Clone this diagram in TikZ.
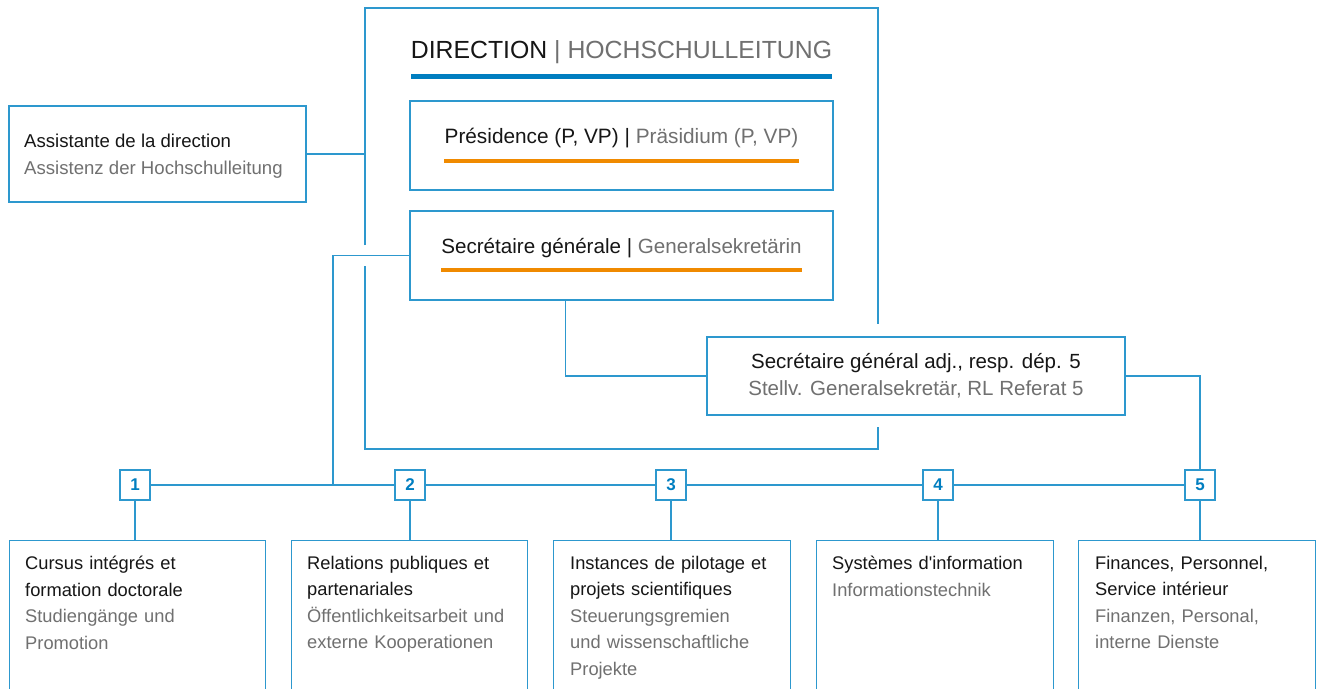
\documentclass[tikz,border=0pt]{standalone}
\usepackage{fontspec}
\setmainfont{Liberation Sans}
\usetikzlibrary{positioning}
\definecolor{orgBlue}{RGB}{45,152,206}
\definecolor{orgBlueDark}{RGB}{0,126,192}
\definecolor{orgOrange}{RGB}{240,138,0}
\definecolor{orgGray}{RGB}{112,112,112}
\definecolor{orgInk}{RGB}{22,22,22}

\begin{document}
\begin{tikzpicture}[x=1pt,y=-1pt,
  box/.style={draw=orgBlue, line width=1.3pt, inner sep=0pt},
  link/.style={draw=orgBlue, line width=1.3pt},
  numbox/.style={draw=orgBlue, line width=1.3pt, minimum size=30pt, inner sep=0pt,
    text=orgBlueDark, font=\fontsize{17}{17}\selectfont\bfseries},
  depttext/.style={inner sep=0pt, anchor=north west, text width=225pt, align=left,
    text=orgInk, font=\fontsize{18.3}{26.5}\selectfont}]
\clip (0,0) rectangle (1317,688);
\fill[white] (0,0) rectangle (1317,688);
% direction frame, open where the links pass
\coordinate (dirNW) at (365,8);
\coordinate (dirSE) at (878,449);
\draw[link] (365,245) -- (dirNW) -- (878,8) -- (878,324);
\draw[link] (365,266) -- (365,449) -- (dirSE) -- (878,427);
\node[inner sep=0pt, anchor=base, text=orgInk, font=\fontsize{24.8}{24.8}\selectfont]
  (title) at (621.5,58) {DIRECTION {\color{orgGray}| HOCHSCHULLEITUNG}};
\draw[orgBlueDark, line width=5pt] (411,76) -- (832,76);
% presidence and secretaire generale
\node[box, minimum width=423pt, minimum height=89pt] (pres) at (621.5,145.5) {};
\node[inner sep=0pt, anchor=base, text=orgInk, font=\fontsize{20.8}{20.8}\selectfont]
  (prestext) at (621.5,143) {Présidence (P, VP) | {\color{orgGray}Präsidium (P, VP)}};
\draw[orgOrange, line width=4pt] ([yshift=-18pt]prestext.base west) -- ([yshift=-18pt]prestext.base east);
\node[box, minimum width=423pt, minimum height=89pt] (sg) at (621.5,255.5) {};
\node[inner sep=0pt, anchor=base, text=orgInk, font=\fontsize{20.6}{20.6}\selectfont]
  (sgtext) at (621.5,253) {Secrétaire générale | {\color{orgGray}Generalsekretärin}};
\draw[orgOrange, line width=4pt] ([yshift=-17pt]sgtext.base west) -- ([yshift=-17pt]sgtext.base east);
% assistant
\node[box, minimum width=297pt, minimum height=96pt] (asst) at (157.5,154) {};
\node[inner sep=0pt, anchor=north west, align=left, text=orgInk, font=\fontsize{18.6}{27}\selectfont]
  (assttext) at (24,134) {Assistante de la direction\\ {\color{orgGray}Assistenz der Hochschulleitung}};
\draw[link] (asst.east) -- (asst.east -| dirNW);
% deputy
\node[box, minimum width=418pt, minimum height=78pt, align=center, text=orgInk,
  font=\fontsize{20.5}{27}\selectfont] (adj) at (916,376)
  {Secrétaire général adj., resp. dép. 5\\ {\color{orgGray}Stellv. Generalsekretär, RL Referat 5}};
\draw[link] ([xshift=-56pt]sg.south) |- (adj.west);
% departments
\node[numbox] (n1) at (135,485) {1};
\node[numbox] (n2) at (410,485) {2};
\node[numbox] (n3) at (671,485) {3};
\node[numbox] (n4) at (938,485) {4};
\node[numbox] (n5) at (1200,485) {5};
\coordinate (busL) at (333,485);
\draw[link] (n1) -- (n2) -- (n3) -- (n4) -- (n5);
\draw[link] (sg.west) -| (busL);
\draw[link] (adj.east) -| (n5.north);
\node[box, minimum width=256pt, minimum height=180pt, anchor=north west] (dept1) at (9,540) {};
\node[box, minimum width=236pt, minimum height=180pt, anchor=north west] (dept2) at (291,540) {};
\node[box, minimum width=237pt, minimum height=180pt, anchor=north west] (dept3) at (553,540) {};
\node[box, minimum width=237pt, minimum height=180pt, anchor=north west] (dept4) at (816,540) {};
\node[box, minimum width=237pt, minimum height=180pt, anchor=north west] (dept5) at (1078,540) {};
\foreach \i in {1,...,5} \draw[link] (n\i.south) -- (n\i.south |- dept\i.north);
\node[depttext] (t1) at ([xshift=16pt,yshift=-16pt]dept1.north west)
  {Cursus intégrés et\\ formation doctorale\\ \textcolor{orgGray}{Studiengänge und}\\ \textcolor{orgGray}{Promotion}};
\node[depttext] (t2) at ([xshift=16pt,yshift=-16pt]dept2.north west)
  {Relations publiques et\\ partenariales\\ \textcolor{orgGray}{Öffentlichkeitsarbeit und}\\ \textcolor{orgGray}{externe Kooperationen}};
\node[depttext] (t3) at ([xshift=17pt,yshift=-16pt]dept3.north west)
  {Instances de pilotage et\\ projets scientifiques\\ \textcolor{orgGray}{Steuerungsgremien}\\ \textcolor{orgGray}{und wissenschaftliche}\\ \textcolor{orgGray}{Projekte}};
\node[depttext] (t4) at ([xshift=16pt,yshift=-16pt]dept4.north west)
  {Systèmes d\textquotesingle information\\ \textcolor{orgGray}{Informationstechnik}};
\node[depttext] (t5) at ([xshift=17pt,yshift=-16pt]dept5.north west)
  {Finances, Personnel,\\ Service intérieur\\ \textcolor{orgGray}{Finanzen, Personal,}\\ \textcolor{orgGray}{interne Dienste}};
\end{tikzpicture}
\end{document}
